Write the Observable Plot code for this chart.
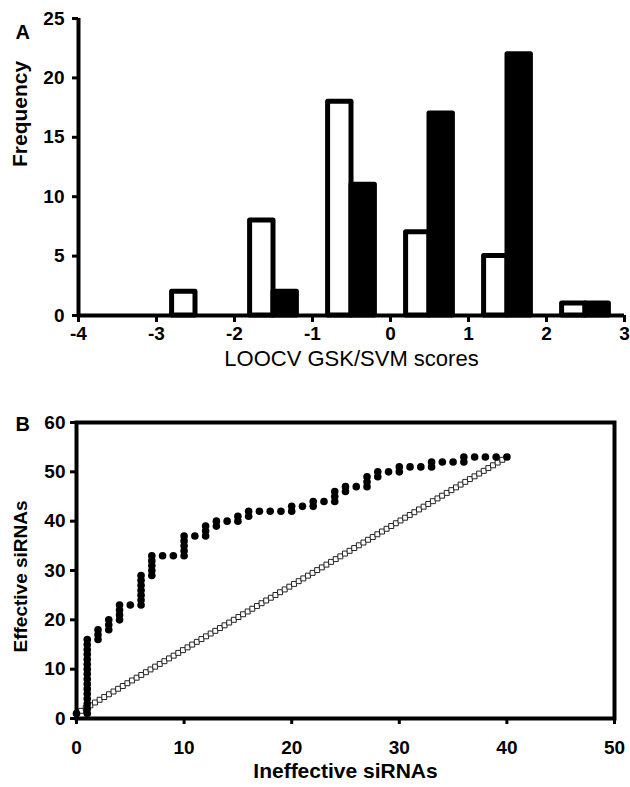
<!DOCTYPE html>
<html><head><meta charset="utf-8">
<script src="https://cdn.jsdelivr.net/npm/d3@7"></script>
<script src="https://cdn.jsdelivr.net/npm/@observablehq/plot@0.6"></script>
<style>
body{margin:0;background:#fff;}
#chart{width:630px;height:787px;overflow:hidden;}
#chart svg{display:block;overflow:visible;}
</style></head><body><div id="chart"></div>
<script>
// ---------- Panel A: histogram of LOOCV GSK/SVM scores ----------
const binCenters = [-2.5, -1.5, -0.5, 0.5, 1.5, 2.5];
const ineffectiveFreq = [2, 8, 18, 7, 5, 1];   // open bars
const effectiveFreq   = [0, 2, 11, 17, 22, 1]; // filled bars
const xTicksA = [-4, -3, -2, -1, 0, 1, 2, 3];
const yTicksA = [0, 5, 10, 15, 20, 25];

// ---------- Panel B: cumulative effective vs ineffective siRNAs ----------
const effectivePoints = [
  [0,1],
  [1,1],[1,2],[1,3],[1,4],[1,5],[1,6],[1,7],[1,8],[1,9],[1,10],[1,11],[1,12],[1,13],[1,14],[1,15],[1,16],
  [2,16],[2,17],[2,18],
  [3,18],[3,19],[3,20],
  [4,20],[4,21],[4,22],[4,23],
  [5,23],
  [6,23],[6,24],[6,25],[6,26],[6,27],[6,28],[6,29],
  [7,29],[7,30],[7,31],[7,32],[7,33],
  [8,33],[9,33],
  [10,33],[10,34],[10,35],[10,36],[10,37],
  [11,37],
  [12,37],[12,38],[12,39],
  [13,39],[13,40],
  [14,40],
  [15,40],[15,41],
  [16,41],[16,42],
  [17,42],[18,42],[19,42],
  [20,42],[20,43],
  [21,43],
  [22,43],[22,44],
  [23,44],
  [24,44],[24,45],[24,46],
  [25,46],[25,47],
  [26,47],
  [27,47],[27,48],[27,49],
  [28,49],[28,50],
  [29,50],
  [30,50],[30,51],
  [31,51],[32,51],
  [33,51],[33,52],
  [34,52],[35,52],
  [36,52],[36,53],
  [37,53],[38,53],[39,53],[40,53]
];
const randomX = [0,0.43,0.86,1.29,1.72,2.15,2.58,3.01,3.44,3.87,4.30,4.73,5.16,5.59,6.02,6.45,6.88,7.31,7.74,8.17,8.60,9.03,9.46,9.89,10.32,10.75,11.18,11.61,12.04,12.47,12.90,13.33,13.76,14.19,14.62,15.05,15.48,15.91,16.34,16.77,17.20,17.63,18.06,18.49,18.92,19.35,19.78,20.22,20.65,21.08,21.51,21.94,22.37,22.80,23.23,23.66,24.09,24.52,24.95,25.38,25.81,26.24,26.67,27.10,27.53,27.96,28.39,28.82,29.25,29.68,30.11,30.54,30.97,31.40,31.83,32.26,32.69,33.12,33.55,33.98,34.41,34.84,35.27,35.70,36.13,36.56,36.99,37.42,37.85,38.28,38.71,39.14,39.57,40.00];
const randomY = [1,1.56,2.12,2.68,3.24,3.80,4.35,4.91,5.47,6.03,6.59,7.15,7.71,8.27,8.83,9.39,9.95,10.51,11.06,11.62,12.18,12.74,13.30,13.86,14.42,14.98,15.54,16.10,16.66,17.22,17.77,18.33,18.89,19.45,20.01,20.57,21.13,21.69,22.25,22.81,23.37,23.92,24.48,25.04,25.60,26.16,26.72,27.28,27.84,28.40,28.96,29.52,30.08,30.63,31.19,31.75,32.31,32.87,33.43,33.99,34.55,35.11,35.67,36.23,36.78,37.34,37.90,38.46,39.02,39.58,40.14,40.70,41.26,41.82,42.38,42.94,43.49,44.05,44.61,45.17,45.73,46.29,46.85,47.41,47.97,48.53,49.09,49.65,50.20,50.76,51.32,51.88,52.44,53.00];
const xTicksB = [0, 10, 20, 30, 40, 50];
const yTicksB = [0, 10, 20, 30, 40, 50, 60];

const FONT = "'Liberation Sans', Arial, Helvetica, sans-serif";
const fmt = d => String(d);
const TICK_FONT = 19;

const bars = binCenters.map((c, i) => ({c, ineff: ineffectiveFreq[i], eff: effectiveFreq[i]}));
const BW = 0.3;

const panelA = Plot.plot({
  width: 630, height: 376,
  marginTop: 18, marginBottom: 61, marginLeft: 78, marginRight: 6,
  style: {fontFamily: FONT, fontSize: TICK_FONT + "px", fontWeight: "bold", background: "white", color: "black"},
  x: {domain: [-4, 3]},
  y: {domain: [0, 25]},
  marks: [
    Plot.rect(bars.filter(d => d.ineff > 0), {x1: d => d.c - BW, x2: d => d.c, y1: 0, y2: "ineff",
      fill: "white", stroke: "black", strokeWidth: 5, strokeLinejoin: "round"}),
    Plot.rect(bars.filter(d => d.eff > 0), {x1: d => d.c, x2: d => d.c + BW, y1: 0, y2: "eff",
      fill: "black", stroke: "black", strokeWidth: 5, strokeLinejoin: "round"}),
    Plot.ruleY([0], {x1: -4, x2: 3, stroke: "black", strokeWidth: 4}),
    Plot.ruleX([-4], {y1: 0, y2: 25, stroke: "black", strokeWidth: 4}),
    Plot.axisX(xTicksA, {tickSize: 7, tickPadding: 4, strokeWidth: 3, fontSize: TICK_FONT, fontWeight: "bold",
      tickFormat: fmt, label: null}),
    Plot.axisY(yTicksA, {tickSize: 6, tickPadding: 8, strokeWidth: 3, fontSize: TICK_FONT, fontWeight: "bold",
      tickFormat: fmt, label: null}),
    Plot.text(["A"], {frameAnchor: "top-left", dx: -63, dy: 6, textAnchor: "start", fontSize: 20, fontWeight: "bold"}),
    Plot.text(["Frequency"], {frameAnchor: "left", dx: -58, dy: 0, rotate: -90, fontSize: 21, fontWeight: "bold"}),
    Plot.text(["LOOCV GSK/SVM scores"], {frameAnchor: "bottom", dy: 50, fontSize: 22, fontWeight: "normal"})
  ]
});

const panelB = Plot.plot({
  width: 630, height: 411,
  marginTop: 46, marginBottom: 69, marginLeft: 76, marginRight: 16,
  style: {fontFamily: FONT, fontSize: TICK_FONT + "px", fontWeight: "bold", background: "white", color: "black"},
  x: {domain: [0, 50]},
  y: {domain: [0, 60]},
  marks: [
    Plot.dot(randomX, {x: d => d, y: (d, i) => randomY[i], symbol: "square", r: 2.8,
      fill: "white", stroke: "#222", strokeWidth: 1}),
    Plot.dot(effectivePoints, {x: d => d[0], y: d => d[1], r: 3.8, fill: "black"}),
    Plot.frame({stroke: "black", strokeWidth: 4}),
    Plot.axisX(xTicksB, {tickSize: 6, tickPadding: 16, strokeWidth: 3, fontSize: TICK_FONT, fontWeight: "bold",
      tickFormat: fmt, label: null}),
    Plot.axisY(yTicksB, {tickSize: 6, tickPadding: 5, strokeWidth: 3, fontSize: TICK_FONT, fontWeight: "bold",
      tickFormat: fmt, label: null}),
    Plot.text(["B"], {frameAnchor: "top-left", dx: -61, dy: -6, textAnchor: "start", fontSize: 20, fontWeight: "bold"}),
    Plot.text(["Effective siRNAs"], {frameAnchor: "left", dx: -56, dy: 82, rotate: -90, fontSize: 19, fontWeight: "bold"}),
    Plot.text(["Ineffective siRNAs"], {frameAnchor: "bottom", dy: 59, fontSize: 21, fontWeight: "bold"})
  ]
});

// make sure every axis tick label is bold (inline style wins over any defaults)
for (const svg of [panelA, panelB]) {
  d3.select(svg).selectAll('[aria-label$="tick label"]')
    .style("font-size", TICK_FONT + "px").style("font-weight", "bold")
    .selectAll("text").style("font-size", TICK_FONT + "px").style("font-weight", "bold");
}

const root = document.getElementById("chart");
root.appendChild(panelA);
root.appendChild(panelB);
</script>
</body></html>
